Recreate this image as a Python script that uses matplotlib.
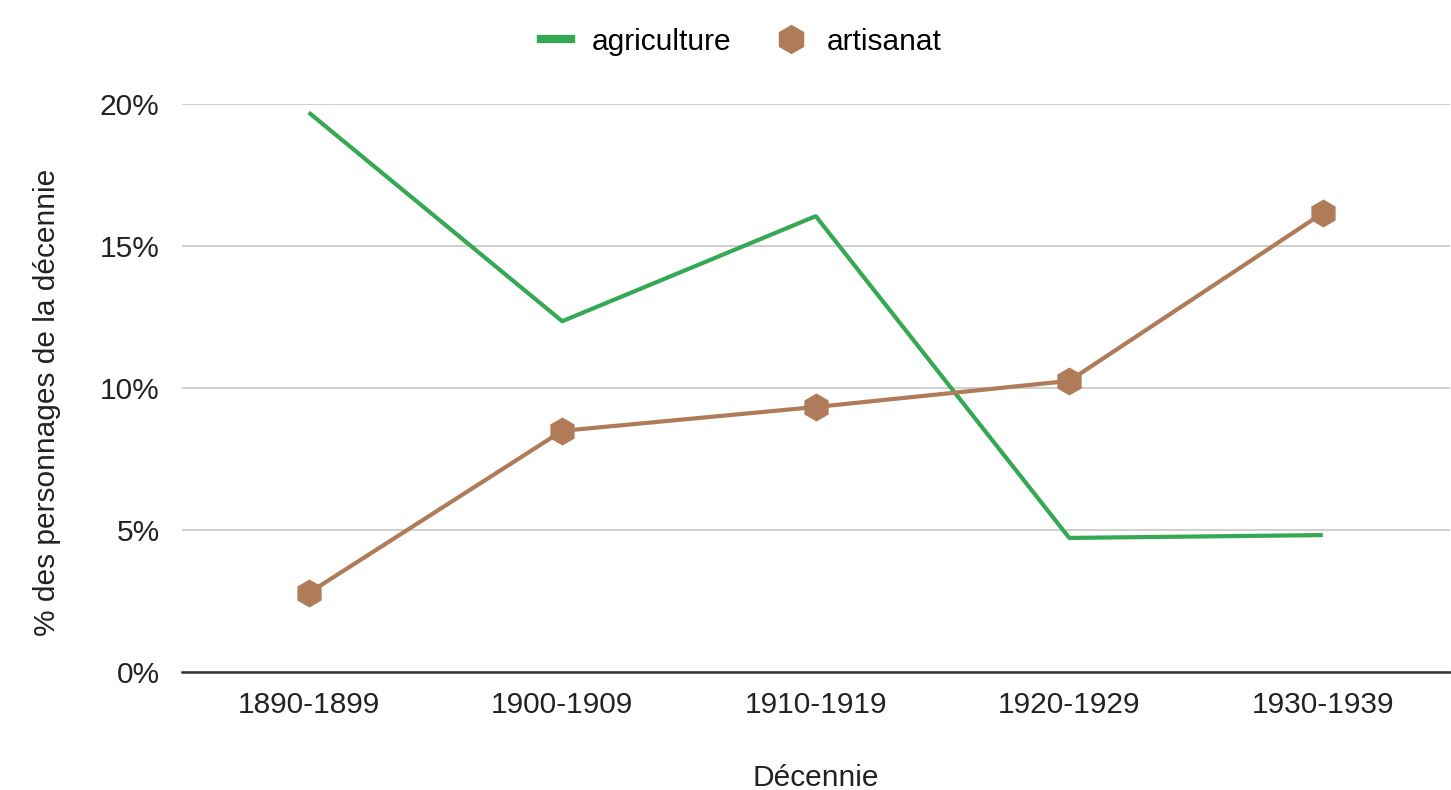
import matplotlib.pyplot as plt
from matplotlib.lines import Line2D

plt.rcParams['font.family'] = ['Liberation Sans', 'DejaVu Sans']

decennies = ["1890-1899", "1900-1909", "1910-1919", "1920-1929", "1930-1939"]
agriculture = [19.7, 12.35, 16.05, 4.72, 4.82]
artisanat = [2.78, 8.49, 9.33, 10.25, 16.16]
yticks = [0, 5, 10, 15, 20]
ytick_labels = ["0%", "5%", "10%", "15%", "20%"]

green = "#34a853"
brown = "#b07b58"

fig = plt.figure(figsize=(14.51, 7.9), dpi=100)
ax = fig.add_axes([0.1254, 0.1494, 0.8736, 0.719])

x = range(len(decennies))
ax.plot(x, agriculture, color=green, lw=3, solid_capstyle="butt", zorder=3)
ax.plot(x, artisanat, color=brown, lw=3, marker="h", markersize=19,
        markeredgecolor=brown, zorder=4)

ax.set_xlim(-0.5, len(decennies) - 0.5)
ax.set_ylim(0, 20)
ax.set_yticks(yticks)
ax.set_yticklabels(ytick_labels)
ax.set_xticks(list(x))
ax.set_xticklabels(decennies)
ax.tick_params(axis="both", length=0, labelsize=21.5, colors="#222222", pad=14)
ax.tick_params(axis="y", pad=16)

ax.grid(axis="y", color="#cccccc", lw=1.3)
ax.set_axisbelow(True)
for s in ["top", "right", "left"]:
    ax.spines[s].set_visible(False)
ax.spines["bottom"].set_color("#333333")
ax.spines["bottom"].set_linewidth(1.8)

ax.set_xlabel("Décennie", fontsize=21.5, color="#222222", labelpad=32)
ax.set_ylabel("% des personnages de la décennie", fontsize=21.5,
              color="#222222", labelpad=28, y=0.475)

handles = [
    Line2D([], [], color=green, lw=6),
    Line2D([], [], color=brown, lw=0, marker="h", markersize=20),
]
fig.legend(handles, ["agriculture", "artisanat"], loc="center",
           bbox_to_anchor=(0.511, 0.947), ncol=2, frameon=False, fontsize=21.5,
           handlelength=1.0, columnspacing=1.5, handletextpad=0.7)

fig.savefig("out.png", dpi=100)
